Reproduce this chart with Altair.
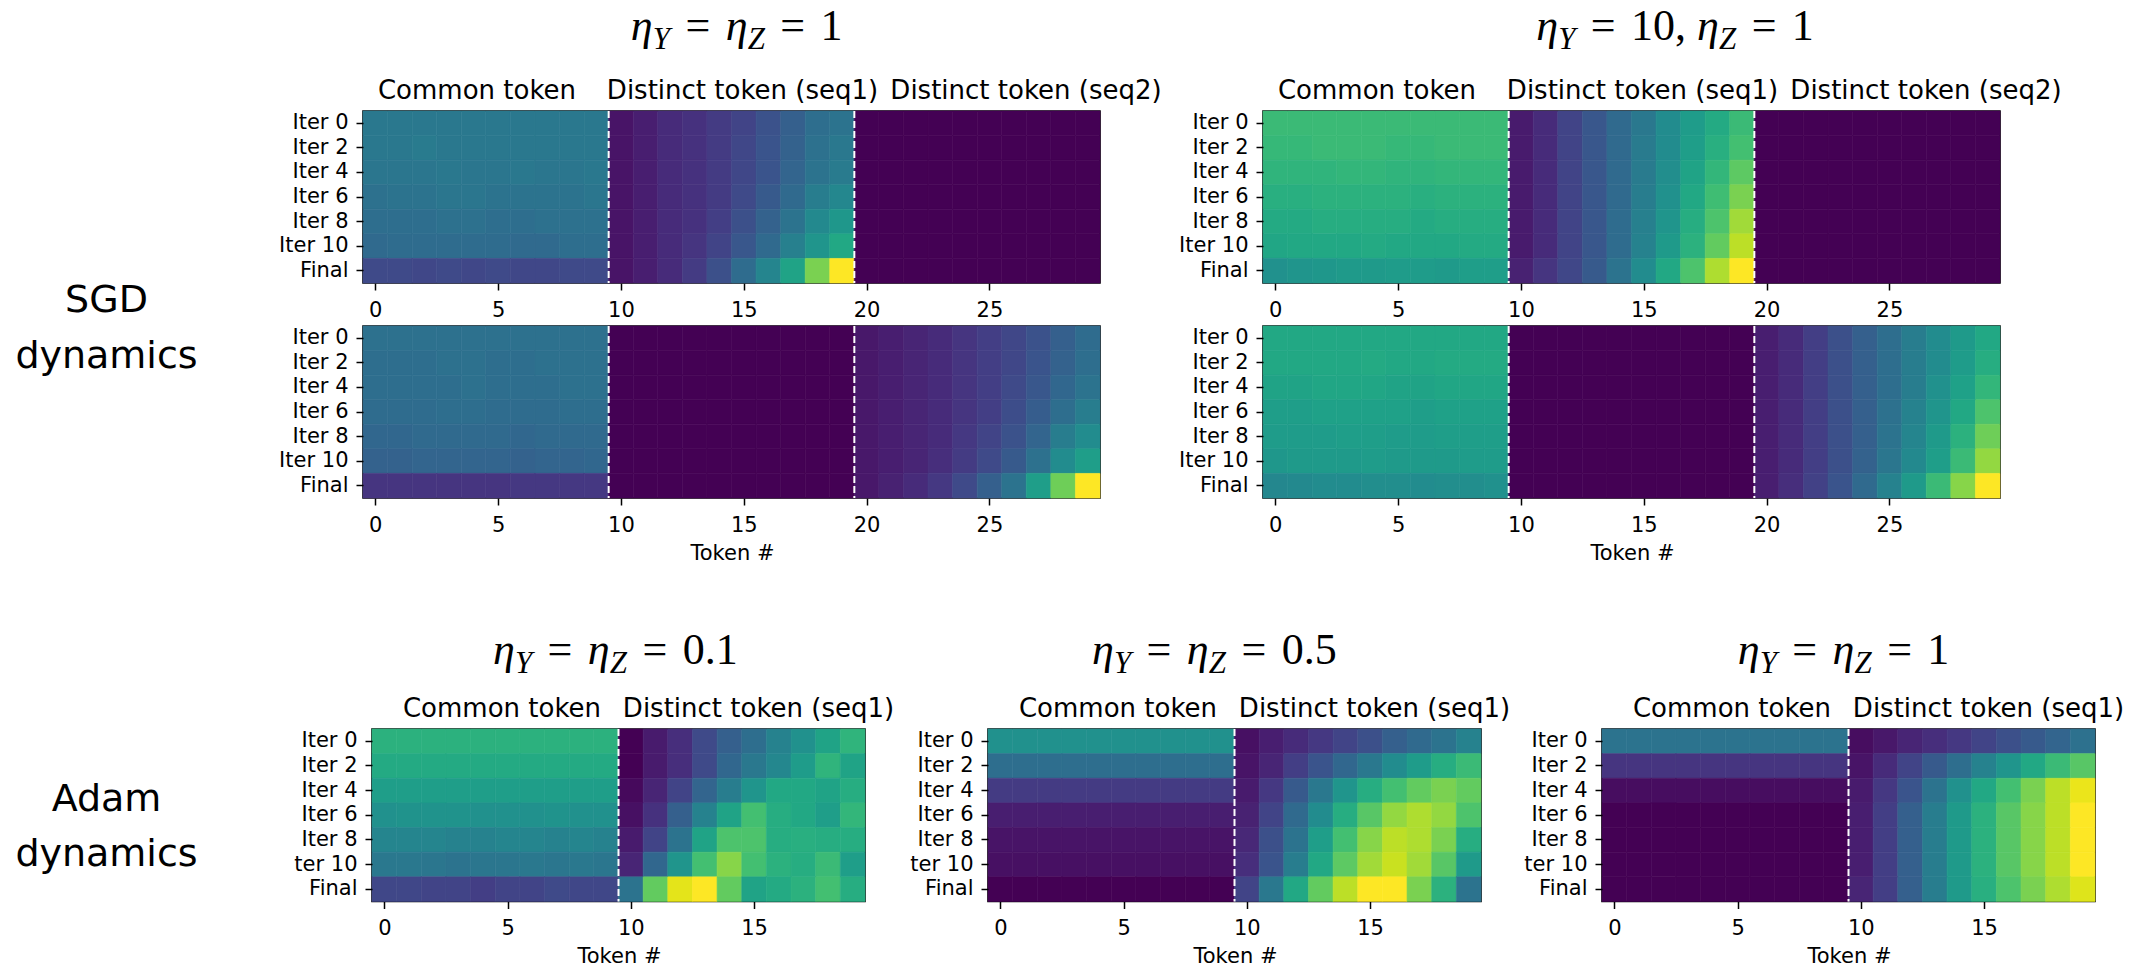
import altair as alt
import pandas as pd

# ---------------------------------------------------------------- data
SGD_ROWS = ["Iter 0", "Iter 2", "Iter 4", "Iter 6", "Iter 8", "Iter 10", "Final"]
ADAM_ROWS = ["Iter 0", "Iter 2", "Iter 4", "Iter 6", "Iter 8", "ter 10", "Final"]

SGD_TICKS = [0, 5, 10, 15, 20, 25]
ADAM_TICKS = [0, 5, 10, 15]

SGD_HEADERS = ["Common token", "Distinct token (seq1)", "Distinct token (seq2)"]
ADAM_HEADERS = ["Common token", "Distinct token (seq1)"]
SGD_EDGES = [9.5, 19.5]
ADAM_EDGES = [9.5]

# SGD, eta_Y = eta_Z = 1, sequence 1 (common | seq1 | seq2)
sgd_eq_seq1 = [
    [0.40, 0.40, 0.40, 0.40, 0.40, 0.40, 0.40, 0.40, 0.40, 0.40,
     0.05, 0.08, 0.12, 0.14, 0.17, 0.20, 0.25, 0.30, 0.36, 0.38,
     0.00, 0.00, 0.00, 0.00, 0.00, 0.00, 0.00, 0.00, 0.00, 0.00],
    [0.40, 0.40, 0.41, 0.40, 0.40, 0.40, 0.40, 0.40, 0.40, 0.40,
     0.05, 0.08, 0.12, 0.14, 0.17, 0.21, 0.26, 0.31, 0.37, 0.40,
     0.00, 0.00, 0.00, 0.00, 0.00, 0.00, 0.00, 0.00, 0.00, 0.00],
    [0.39, 0.39, 0.39, 0.40, 0.39, 0.39, 0.40, 0.39, 0.39, 0.40,
     0.05, 0.08, 0.12, 0.14, 0.17, 0.21, 0.26, 0.32, 0.38, 0.41,
     0.00, 0.00, 0.00, 0.00, 0.00, 0.00, 0.00, 0.00, 0.00, 0.00],
    [0.37, 0.38, 0.38, 0.39, 0.39, 0.38, 0.38, 0.38, 0.38, 0.39,
     0.05, 0.08, 0.12, 0.14, 0.17, 0.22, 0.28, 0.34, 0.42, 0.46,
     0.00, 0.00, 0.00, 0.00, 0.00, 0.00, 0.00, 0.00, 0.00, 0.00],
    [0.36, 0.36, 0.36, 0.37, 0.37, 0.36, 0.36, 0.37, 0.37, 0.37,
     0.05, 0.08, 0.12, 0.14, 0.18, 0.24, 0.31, 0.38, 0.47, 0.53,
     0.00, 0.00, 0.00, 0.00, 0.00, 0.00, 0.00, 0.00, 0.00, 0.00],
    [0.34, 0.35, 0.35, 0.35, 0.35, 0.35, 0.34, 0.34, 0.36, 0.36,
     0.05, 0.08, 0.12, 0.15, 0.20, 0.27, 0.34, 0.43, 0.52, 0.60,
     0.00, 0.00, 0.00, 0.00, 0.00, 0.00, 0.00, 0.00, 0.00, 0.00],
    [0.22, 0.22, 0.21, 0.22, 0.21, 0.22, 0.21, 0.21, 0.22, 0.22,
     0.05, 0.08, 0.12, 0.17, 0.24, 0.35, 0.45, 0.58, 0.80, 1.00,
     0.00, 0.00, 0.00, 0.00, 0.00, 0.00, 0.00, 0.00, 0.00, 0.00],
]

# SGD, eta_Y = eta_Z = 1, sequence 2
sgd_eq_seq2 = [
    [0.37, 0.37, 0.37, 0.37, 0.37, 0.37, 0.37, 0.37, 0.37, 0.37,
     0.00, 0.00, 0.00, 0.00, 0.00, 0.00, 0.00, 0.00, 0.00, 0.00,
     0.06, 0.08, 0.10, 0.12, 0.15, 0.18, 0.21, 0.25, 0.30, 0.35],
    [0.36, 0.36, 0.36, 0.37, 0.37, 0.36, 0.36, 0.37, 0.37, 0.37,
     0.00, 0.00, 0.00, 0.00, 0.00, 0.00, 0.00, 0.00, 0.00, 0.00,
     0.06, 0.08, 0.10, 0.12, 0.15, 0.18, 0.21, 0.26, 0.31, 0.36],
    [0.36, 0.36, 0.36, 0.36, 0.37, 0.36, 0.36, 0.36, 0.37, 0.37,
     0.00, 0.00, 0.00, 0.00, 0.00, 0.00, 0.00, 0.00, 0.00, 0.00,
     0.06, 0.08, 0.10, 0.12, 0.15, 0.18, 0.22, 0.27, 0.33, 0.38],
    [0.35, 0.35, 0.35, 0.36, 0.36, 0.35, 0.35, 0.35, 0.36, 0.36,
     0.00, 0.00, 0.00, 0.00, 0.00, 0.00, 0.00, 0.00, 0.00, 0.00,
     0.06, 0.08, 0.10, 0.12, 0.15, 0.18, 0.23, 0.29, 0.36, 0.42],
    [0.33, 0.33, 0.34, 0.34, 0.34, 0.34, 0.33, 0.34, 0.34, 0.34,
     0.00, 0.00, 0.00, 0.00, 0.00, 0.00, 0.00, 0.00, 0.00, 0.00,
     0.06, 0.08, 0.10, 0.12, 0.16, 0.20, 0.25, 0.32, 0.42, 0.48],
    [0.31, 0.31, 0.32, 0.32, 0.32, 0.32, 0.31, 0.32, 0.32, 0.33,
     0.00, 0.00, 0.00, 0.00, 0.00, 0.00, 0.00, 0.00, 0.00, 0.00,
     0.06, 0.08, 0.10, 0.13, 0.17, 0.22, 0.28, 0.37, 0.48, 0.56],
    [0.15, 0.15, 0.15, 0.15, 0.15, 0.15, 0.16, 0.16, 0.16, 0.16,
     0.00, 0.00, 0.00, 0.00, 0.00, 0.00, 0.00, 0.00, 0.00, 0.00,
     0.06, 0.09, 0.12, 0.16, 0.22, 0.30, 0.38, 0.56, 0.78, 1.00],
]

# SGD, eta_Y = 10, eta_Z = 1, sequence 1
sgd_y10_seq1 = [
    [0.68, 0.68, 0.68, 0.68, 0.68, 0.68, 0.68, 0.68, 0.68, 0.68,
     0.07, 0.12, 0.20, 0.27, 0.34, 0.40, 0.48, 0.55, 0.61, 0.68,
     0.00, 0.00, 0.00, 0.00, 0.00, 0.00, 0.00, 0.00, 0.00, 0.00],
    [0.67, 0.67, 0.68, 0.68, 0.68, 0.67, 0.67, 0.68, 0.68, 0.68,
     0.07, 0.12, 0.20, 0.27, 0.34, 0.41, 0.48, 0.56, 0.63, 0.70,
     0.00, 0.00, 0.00, 0.00, 0.00, 0.00, 0.00, 0.00, 0.00, 0.00],
    [0.65, 0.65, 0.65, 0.66, 0.66, 0.65, 0.65, 0.66, 0.66, 0.66,
     0.07, 0.12, 0.20, 0.27, 0.34, 0.41, 0.49, 0.58, 0.66, 0.75,
     0.00, 0.00, 0.00, 0.00, 0.00, 0.00, 0.00, 0.00, 0.00, 0.00],
    [0.63, 0.63, 0.64, 0.64, 0.64, 0.64, 0.63, 0.64, 0.64, 0.64,
     0.07, 0.12, 0.20, 0.27, 0.34, 0.42, 0.50, 0.60, 0.69, 0.80,
     0.00, 0.00, 0.00, 0.00, 0.00, 0.00, 0.00, 0.00, 0.00, 0.00],
    [0.61, 0.61, 0.62, 0.62, 0.62, 0.62, 0.61, 0.62, 0.62, 0.62,
     0.07, 0.12, 0.20, 0.27, 0.35, 0.43, 0.52, 0.62, 0.72, 0.86,
     0.00, 0.00, 0.00, 0.00, 0.00, 0.00, 0.00, 0.00, 0.00, 0.00],
    [0.59, 0.60, 0.60, 0.60, 0.61, 0.60, 0.60, 0.60, 0.61, 0.61,
     0.07, 0.12, 0.20, 0.27, 0.35, 0.44, 0.54, 0.64, 0.76, 0.90,
     0.00, 0.00, 0.00, 0.00, 0.00, 0.00, 0.00, 0.00, 0.00, 0.00],
    [0.50, 0.52, 0.53, 0.54, 0.54, 0.55, 0.55, 0.54, 0.56, 0.56,
     0.09, 0.15, 0.21, 0.28, 0.38, 0.48, 0.60, 0.72, 0.88, 1.00,
     0.00, 0.00, 0.00, 0.00, 0.00, 0.00, 0.00, 0.00, 0.00, 0.00],
]

# SGD, eta_Y = 10, eta_Z = 1, sequence 2
sgd_y10_seq2 = [
    [0.60, 0.60, 0.60, 0.60, 0.60, 0.60, 0.60, 0.60, 0.60, 0.60,
     0.00, 0.00, 0.00, 0.00, 0.00, 0.00, 0.00, 0.00, 0.00, 0.00,
     0.08, 0.12, 0.18, 0.24, 0.30, 0.36, 0.42, 0.48, 0.54, 0.60],
    [0.60, 0.60, 0.60, 0.60, 0.61, 0.60, 0.60, 0.61, 0.61, 0.61,
     0.00, 0.00, 0.00, 0.00, 0.00, 0.00, 0.00, 0.00, 0.00, 0.00,
     0.08, 0.12, 0.18, 0.24, 0.30, 0.36, 0.42, 0.48, 0.55, 0.62],
    [0.58, 0.58, 0.59, 0.59, 0.59, 0.58, 0.58, 0.59, 0.59, 0.59,
     0.00, 0.00, 0.00, 0.00, 0.00, 0.00, 0.00, 0.00, 0.00, 0.00,
     0.08, 0.12, 0.18, 0.24, 0.30, 0.36, 0.42, 0.50, 0.57, 0.66],
    [0.56, 0.56, 0.57, 0.57, 0.57, 0.57, 0.56, 0.57, 0.57, 0.57,
     0.00, 0.00, 0.00, 0.00, 0.00, 0.00, 0.00, 0.00, 0.00, 0.00,
     0.08, 0.12, 0.18, 0.24, 0.30, 0.37, 0.44, 0.52, 0.60, 0.72],
    [0.55, 0.55, 0.55, 0.56, 0.56, 0.55, 0.55, 0.56, 0.56, 0.56,
     0.00, 0.00, 0.00, 0.00, 0.00, 0.00, 0.00, 0.00, 0.00, 0.00,
     0.08, 0.12, 0.18, 0.24, 0.30, 0.38, 0.45, 0.54, 0.64, 0.78],
    [0.53, 0.54, 0.54, 0.54, 0.55, 0.54, 0.54, 0.54, 0.55, 0.55,
     0.00, 0.00, 0.00, 0.00, 0.00, 0.00, 0.00, 0.00, 0.00, 0.00,
     0.08, 0.12, 0.18, 0.24, 0.31, 0.39, 0.47, 0.56, 0.68, 0.84],
    [0.46, 0.47, 0.48, 0.48, 0.49, 0.49, 0.48, 0.49, 0.49, 0.50,
     0.00, 0.00, 0.00, 0.00, 0.00, 0.00, 0.00, 0.00, 0.00, 0.00,
     0.08, 0.13, 0.19, 0.26, 0.34, 0.44, 0.54, 0.68, 0.82, 1.00],
]

# Adam, eta_Y = eta_Z = 0.1 (common | seq1)
adam_01 = [
    [0.64, 0.64, 0.64, 0.64, 0.64, 0.64, 0.64, 0.64, 0.64, 0.64,
     0.00, 0.07, 0.13, 0.22, 0.30, 0.36, 0.44, 0.50, 0.58, 0.65],
    [0.61, 0.61, 0.61, 0.61, 0.61, 0.61, 0.61, 0.61, 0.61, 0.61,
     0.00, 0.07, 0.13, 0.22, 0.33, 0.40, 0.46, 0.55, 0.65, 0.58],
    [0.56, 0.56, 0.56, 0.56, 0.56, 0.56, 0.56, 0.56, 0.56, 0.56,
     0.02, 0.10, 0.20, 0.32, 0.42, 0.52, 0.60, 0.60, 0.58, 0.62],
    [0.50, 0.51, 0.51, 0.51, 0.50, 0.50, 0.50, 0.51, 0.50, 0.50,
     0.04, 0.14, 0.30, 0.44, 0.58, 0.70, 0.62, 0.60, 0.56, 0.66],
    [0.45, 0.45, 0.45, 0.44, 0.44, 0.45, 0.45, 0.44, 0.45, 0.44,
     0.07, 0.20, 0.38, 0.58, 0.72, 0.72, 0.62, 0.63, 0.62, 0.62],
    [0.40, 0.40, 0.39, 0.38, 0.39, 0.39, 0.40, 0.39, 0.40, 0.39,
     0.10, 0.33, 0.52, 0.70, 0.82, 0.70, 0.64, 0.62, 0.68, 0.56],
    [0.21, 0.21, 0.20, 0.20, 0.18, 0.20, 0.20, 0.22, 0.21, 0.21,
     0.38, 0.76, 0.96, 1.00, 0.76, 0.58, 0.61, 0.64, 0.70, 0.62],
]

# Adam, eta_Y = eta_Z = 0.5
adam_05 = [
    [0.50, 0.50, 0.50, 0.50, 0.50, 0.50, 0.50, 0.50, 0.50, 0.50,
     0.04, 0.08, 0.12, 0.16, 0.20, 0.24, 0.30, 0.34, 0.38, 0.44],
    [0.36, 0.36, 0.36, 0.36, 0.36, 0.36, 0.36, 0.36, 0.36, 0.36,
     0.05, 0.10, 0.18, 0.26, 0.33, 0.40, 0.48, 0.55, 0.62, 0.68],
    [0.17, 0.17, 0.17, 0.17, 0.17, 0.17, 0.17, 0.17, 0.17, 0.17,
     0.07, 0.16, 0.28, 0.40, 0.52, 0.62, 0.70, 0.76, 0.80, 0.76],
    [0.08, 0.08, 0.08, 0.08, 0.08, 0.08, 0.08, 0.08, 0.08, 0.08,
     0.09, 0.20, 0.34, 0.48, 0.62, 0.74, 0.84, 0.88, 0.84, 0.72],
    [0.05, 0.05, 0.05, 0.05, 0.05, 0.05, 0.05, 0.05, 0.05, 0.05,
     0.11, 0.24, 0.38, 0.56, 0.70, 0.82, 0.90, 0.88, 0.80, 0.62],
    [0.04, 0.04, 0.04, 0.04, 0.04, 0.04, 0.04, 0.04, 0.04, 0.04,
     0.13, 0.26, 0.42, 0.60, 0.75, 0.86, 0.92, 0.86, 0.74, 0.54],
    [0.00, 0.00, 0.00, 0.00, 0.00, 0.00, 0.00, 0.00, 0.00, 0.00,
     0.20, 0.40, 0.60, 0.76, 0.90, 1.00, 1.00, 0.80, 0.64, 0.38],
]

# Adam, eta_Y = eta_Z = 1
adam_1 = [
    [0.38, 0.38, 0.38, 0.38, 0.38, 0.38, 0.38, 0.38, 0.38, 0.38,
     0.03, 0.06, 0.10, 0.13, 0.16, 0.20, 0.24, 0.28, 0.32, 0.37],
    [0.15, 0.15, 0.15, 0.15, 0.15, 0.15, 0.15, 0.15, 0.15, 0.15,
     0.05, 0.12, 0.20, 0.28, 0.36, 0.44, 0.52, 0.60, 0.68, 0.74],
    [0.03, 0.03, 0.03, 0.03, 0.03, 0.03, 0.03, 0.03, 0.03, 0.03,
     0.07, 0.16, 0.26, 0.38, 0.50, 0.60, 0.70, 0.80, 0.90, 0.97],
    [0.00, 0.00, 0.00, 0.00, 0.00, 0.00, 0.00, 0.00, 0.00, 0.00,
     0.08, 0.18, 0.30, 0.42, 0.54, 0.64, 0.74, 0.82, 0.90, 1.00],
    [0.00, 0.00, 0.00, 0.00, 0.00, 0.00, 0.00, 0.00, 0.00, 0.00,
     0.08, 0.18, 0.30, 0.42, 0.54, 0.64, 0.74, 0.82, 0.90, 1.00],
    [0.00, 0.00, 0.00, 0.00, 0.00, 0.00, 0.00, 0.00, 0.00, 0.00,
     0.08, 0.18, 0.30, 0.42, 0.54, 0.64, 0.74, 0.82, 0.90, 1.00],
    [0.00, 0.00, 0.00, 0.00, 0.00, 0.00, 0.00, 0.00, 0.00, 0.00,
     0.10, 0.18, 0.30, 0.42, 0.54, 0.63, 0.72, 0.80, 0.88, 0.95],
]

# Panel titles, as (text, style) runs
TITLE_EQ_1 = [("η", "it"), ("Y", "sub"), ("=", "op"), ("η", "it"), ("Z", "sub"), ("=", "op"), ("1", "rm")]
TITLE_Y10 = [("η", "it"), ("Y", "sub"), ("=", "op"), ("10, ", "rm"), ("η", "it"), ("Z", "sub"), ("=", "op"), ("1", "rm")]
TITLE_EQ_01 = [("η", "it"), ("Y", "sub"), ("=", "op"), ("η", "it"), ("Z", "sub"), ("=", "op"), ("0.1", "rm")]
TITLE_EQ_05 = [("η", "it"), ("Y", "sub"), ("=", "op"), ("η", "it"), ("Z", "sub"), ("=", "op"), ("0.5", "rm")]

# ---------------------------------------------------------------- layout
SANS = "DejaVu Sans"
SERIF = "Liberation Serif"

SGD_W, SGD_H = 737, 172
ADAM_W, ADAM_H = 493, 172.5
LEFT_SGD, LEFT_ADAM = 363, 372
GAP_SGD = 162.5
GAP_ADAM_1, GAP_ADAM_2 = 122.5, 121
TOP_SPACE = 111          # page top to first heatmap row
ROW_A_TO_B = 215         # top of first SGD row to top of second
ROW_B_TO_ADAM = 403      # top of second SGD row to top of Adam row

SGD_HEADER_X = [114, 379.5, 663]
ADAM_HEADER_X = [130, 386.5]

ONE = pd.DataFrame({"k": [0]})

RM_W = {"0": 0.5, "1": 0.5, "5": 0.5, ",": 0.25, ".": 0.25, " ": 0.25, "=": 0.564}
IT_W = {"η": 0.5, "Y": 0.556, "Z": 0.556}


def text_mark(text, x, y, size, font=SANS, style="normal", align="center"):
    return alt.Chart(ONE).mark_text(
        align=align, baseline="alphabetic", font=font, fontSize=size,
        fontStyle=style, color="black",
    ).encode(x=alt.value(x), y=alt.value(y), text=alt.value(text))


def title_marks(parts, cx, base_y, size=44, sub=31, gap=0.35):
    pieces = []
    x = 0.0
    for text, kind in parts:
        if kind == "sub":
            pieces.append((text, x, base_y + 9, sub, "italic"))
            w = sum(IT_W[ch] for ch in text) * sub
        elif kind == "it":
            pieces.append((text, x, base_y, size, "italic"))
            w = sum(IT_W[ch] for ch in text) * size
        elif kind == "op":
            g = gap * size
            pieces.append((text, x + g, base_y, size, "normal"))
            w = 2 * g + RM_W[text] * size
        else:
            pieces.append((text, x, base_y, size, "normal"))
            w = sum(RM_W[ch] for ch in text) * size
        x += w
    left = cx - x / 2
    return [text_mark(t, left + dx, y, s, font=SERIF, style=st, align="left")
            for t, dx, y, s, st in pieces]


def spacer(w, h):
    return alt.Chart(ONE).mark_rect(opacity=0).encode(
        x=alt.value(0), x2=alt.value(1), y=alt.value(0), y2=alt.value(1)
    ).properties(width=w, height=h)


def heatmap(values, rows, ticks, edges, headers, header_x, width, height,
            title=None, title_cx=0, title_y=0, token_y=None):
    n = len(values[0])
    df = pd.DataFrame(
        [{"row": rows[r], "token": c, "value": v}
         for r, line in enumerate(values) for c, v in enumerate(line)]
    )
    xscale = alt.Scale(domain=[-0.5, n - 0.5], nice=False, zero=False)
    cscale = alt.Scale(scheme="viridis", domain=[0, 1])
    cells = alt.Chart(df).transform_calculate(
        x0="datum.token - 0.5", x1="datum.token + 0.5"
    ).mark_rect(strokeWidth=0.6).encode(
        x=alt.X("x0:Q", scale=xscale,
                axis=alt.Axis(values=ticks, title=None, format="d")),
        x2="x1:Q",
        y=alt.Y("row:N", scale=alt.Scale(domain=rows, paddingInner=0, paddingOuter=0),
                axis=alt.Axis(title=None)),
        color=alt.Color("value:Q", scale=cscale, legend=None),
        stroke=alt.Color("value:Q", scale=cscale, legend=None),
    )
    dividers = alt.Chart(pd.DataFrame({"edge": edges})).mark_rule(
        color="white", strokeDash=[7, 3], strokeWidth=2
    ).encode(x=alt.X("edge:Q", scale=xscale))

    layers = [cells, dividers]
    for h, hx in zip(headers, header_x):
        layers.append(text_mark(h, hx, -12.5, 26))
    if title is not None:
        layers += title_marks(title, title_cx, title_y)
    if token_y is not None:
        layers.append(text_mark("Token #", width / 2 + 1, height + token_y, 21))
    return alt.layer(*layers).properties(
        width=width, height=height,
        view=alt.ViewBackground(stroke="black", strokeWidth=1.6),
    )


# ---------------------------------------------------------------- panels
panel_a = heatmap(sgd_eq_seq1, SGD_ROWS, SGD_TICKS, SGD_EDGES, SGD_HEADERS, SGD_HEADER_X,
                  SGD_W, SGD_H, title=TITLE_EQ_1, title_cx=373.7, title_y=-71.3)
panel_b = heatmap(sgd_eq_seq2, SGD_ROWS, SGD_TICKS, SGD_EDGES, [], [],
                  SGD_W, SGD_H, token_y=62)
panel_c = heatmap(sgd_y10_seq1, SGD_ROWS, SGD_TICKS, SGD_EDGES, SGD_HEADERS, SGD_HEADER_X,
                  SGD_W, SGD_H, title=TITLE_Y10, title_cx=412, title_y=-71.3)
panel_d = heatmap(sgd_y10_seq2, SGD_ROWS, SGD_TICKS, SGD_EDGES, [], [],
                  SGD_W, SGD_H, token_y=62)
panel_e = heatmap(adam_01, ADAM_ROWS, ADAM_TICKS, ADAM_EDGES, ADAM_HEADERS, ADAM_HEADER_X,
                  ADAM_W, ADAM_H, title=TITLE_EQ_01, title_cx=243.3, title_y=-65,
                  token_y=61)
panel_f = heatmap(adam_05, ADAM_ROWS, ADAM_TICKS, ADAM_EDGES, ADAM_HEADERS, ADAM_HEADER_X,
                  ADAM_W, ADAM_H, title=TITLE_EQ_05, title_cx=226.3, title_y=-65,
                  token_y=61)
panel_g = heatmap(adam_1, ADAM_ROWS, ADAM_TICKS, ADAM_EDGES, ADAM_HEADERS, ADAM_HEADER_X,
                  ADAM_W, ADAM_H, title=TITLE_EQ_1, title_cx=241.5, title_y=-65,
                  token_y=61)

sgd_label = alt.layer(
    text_mark("SGD", 106.5, 200.7, 38),
    text_mark("dynamics", 106.5, 257.3, 38),
).properties(width=LEFT_SGD, height=SGD_H)

adam_label = alt.layer(
    text_mark("Adam", 106.5, 82.4, 38),
    text_mark("dynamics", 106.5, 137.4, 38),
).properties(width=LEFT_ADAM, height=ADAM_H)

# each row is a flush strip of views; spacer views set the gaps
row_a = alt.hconcat(sgd_label, panel_a, spacer(GAP_SGD, SGD_H), panel_c,
                    spacing=0, bounds="flush")
row_b = alt.hconcat(spacer(LEFT_SGD, SGD_H), panel_b, spacer(GAP_SGD, SGD_H), panel_d,
                    spacing=0, bounds="flush")
row_adam = alt.hconcat(adam_label, panel_e, spacer(GAP_ADAM_1, ADAM_H), panel_f,
                       spacer(GAP_ADAM_2, ADAM_H), panel_g,
                       spacing=0, bounds="flush")

chart = alt.vconcat(
    spacer(1, TOP_SPACE), row_a,
    spacer(1, ROW_A_TO_B), row_b,
    spacer(1, ROW_B_TO_ADAM), row_adam,
    spacing=0, bounds="flush",
).properties(
    padding=0, background="white"
).configure_view(
    strokeWidth=0
).configure_axis(
    labelFont=SANS, labelFontSize=21, labelColor="black",
    tickColor="black", tickWidth=1.5, tickSize=7,
    domain=False, grid=False, labelFlush=False,
).configure_axisX(
    labelPadding=9
).configure_axisY(
    labelPadding=8
)

chart.save("out.html", embed_options={"renderer": "svg", "actions": False})
